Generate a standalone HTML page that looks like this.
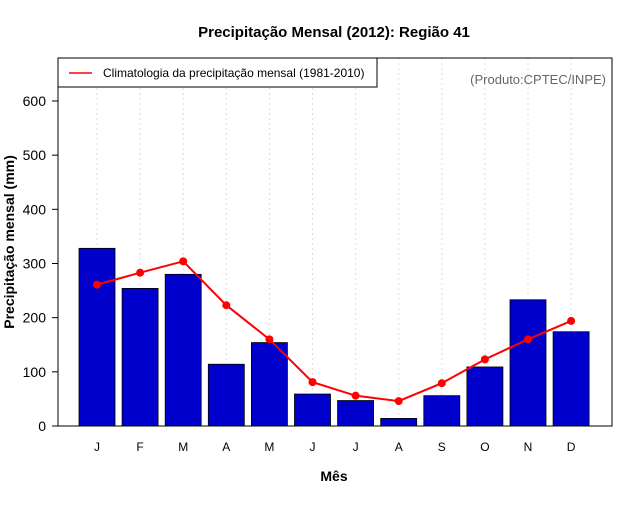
<!DOCTYPE html>
<html><head><meta charset="utf-8"><style>
body{margin:0;background:#fff;}
svg text{font-family:"Liberation Sans",sans-serif;}
</style></head><body>
<svg id="c" width="640" height="500" xmlns="http://www.w3.org/2000/svg">
<rect width="640" height="500" fill="#fff"/>
<text x="334" y="37" text-anchor="middle" font-size="15" font-weight="bold">Precipitação Mensal (2012): Região 41</text>
<g id="grid"></g>
<g id="bars"></g>
<g id="line"></g>
<rect x="58" y="58" width="554" height="368" fill="none" stroke="#000"/>
<g id="axes"></g>
<g>
<rect x="58" y="58" width="319" height="29" fill="#fff" stroke="#000"/>
<line x1="69" y1="73" x2="92" y2="73" stroke="#ff0000" stroke-width="1.5"/>
<text x="103" y="77" font-size="12">Climatologia da precipitação mensal (1981-2010)</text>
</g>
<text x="606" y="84" text-anchor="end" font-size="13" fill="#666">(Produto:CPTEC/INPE)</text>
<text x="334" y="481" text-anchor="middle" font-size="14" font-weight="bold">Mês</text>
<text transform="translate(14,242) rotate(-90)" text-anchor="middle" font-size="14" font-weight="bold">Precipitação mensal (mm)</text>
</svg>
<script>
const months = ["J","F","M","A","M","J","J","A","S","O","N","D"];
const observed = [328,254,280,114,154,59,47,14,56,109,233,174];
const climatology = [261,283,304,223,160,81,56,46,79,123,160,194];
const yTicks = [0,100,200,300,400,500,600];
const NS="http://www.w3.org/2000/svg";
function x(i){return 97+i*43.1;}
function y(v){return 426-v*0.5417;}
function mk(tag,attrs,parent){const e=document.createElementNS(NS,tag);for(const k in attrs)e.setAttribute(k,attrs[k]);document.getElementById(parent).appendChild(e);return e;}
months.forEach((m,i)=>{
 const g=mk("line",{x1:x(i),x2:x(i),y1:58,y2:426,stroke:"#ddd","stroke-dasharray":"2,3"},"grid");
 
 
 const b=mk("rect",{x:x(i)-18,y:y(observed[i]),width:36,height:y(0)-y(observed[i]),fill:"#0000cd",stroke:"#000","stroke-width":0.8},"bars");
 
 
 const t=mk("text",{x:x(i),y:451,"text-anchor":"middle","font-size":12},"axes");
 t.textContent=m;
 
 
});
const pl=mk("polyline",{points:climatology.map((v,i)=>x(i)+","+y(v)).join(" "),fill:"none",stroke:"#ff0000","stroke-width":2},"line");


climatology.forEach((v,i)=>{
 const c=mk("circle",{cx:x(i),cy:y(v),r:4,fill:"#ff0000"},"line");
 
 
});
yTicks.forEach(v=>{
 const l=mk("line",{x1:52,x2:58,y1:y(v),y2:y(v),stroke:"#000"},"axes");
 
 
 const t=mk("text",{x:46,y:y(v)+5,"text-anchor":"end","font-size":14},"axes");
 t.textContent=v;
 
 
});
</script>
</body></html>
